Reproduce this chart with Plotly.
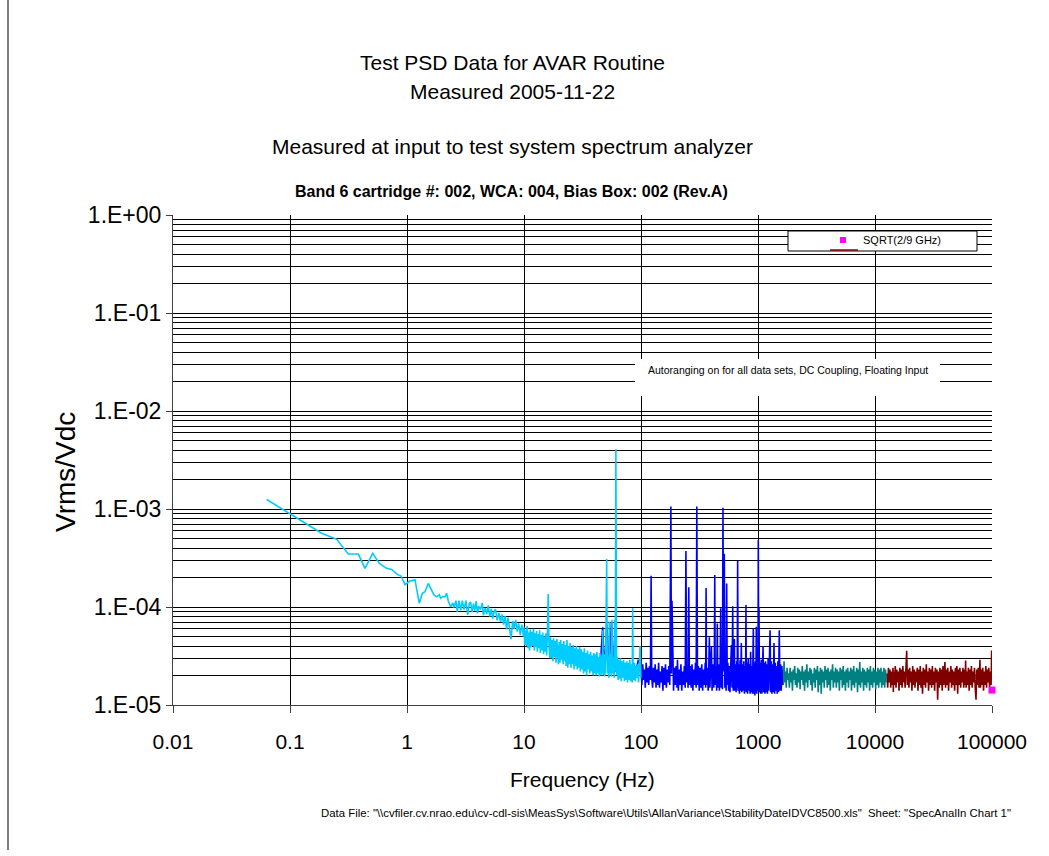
import plotly.graph_objects as go

# ---------------- data ----------------
cyan_freq = [0.0632, 0.125, 0.1866, 0.2507, 0.315, 0.384, 0.4375, 0.509, 0.580, 0.670,
             0.740, 0.833, 0.889, 0.962, 1.047, 1.170, 1.274, 1.352, 1.425, 1.52,
             1.60, 1.70, 1.79, 1.89, 1.94, 2.02, 2.11, 2.18, 2.25, 2.36,
             2.46, 2.52, 2.62, 2.69, 2.78, 2.88, 2.97, 3.07, 3.19, 3.30, 3.41,
             3.5, 3.6, 3.7, 3.8, 3.9, 4.0, 4.1, 4.25, 4.4, 4.5, 4.65, 4.8, 4.95, 5.1,
             5.25, 5.4, 5.55, 5.7, 5.9, 6.1, 6.3, 6.5, 6.7, 6.9, 7.1, 7.3, 7.5, 7.75,
             8.0, 8.25, 8.5, 8.75, 9.0, 9.3, 9.6, 9.9,
             10.0, 10.15, 10.3, 10.5, 10.65, 10.8, 11.0, 11.15, 11.3, 11.5,
             11.7, 11.85, 12.05, 12.25, 12.4, 12.6, 12.8, 13.0, 13.2, 13.4,
             13.6, 13.8, 14.0, 14.25, 14.45, 14.7, 14.9, 15.15, 15.4, 15.6, 15.85,
             16.1,
             16.35, 16.6, 16.85, 17.1, 17.4, 17.65, 17.9, 18.2, 18.5, 18.8, 19.1, 19.4, 19.7,
             20.0, 20.3, 20.6, 20.9, 21.2, 21.6, 21.9, 22.2, 22.6, 22.9,
             23.3, 23.7, 24.0, 24.4, 24.8, 25.2, 25.6, 26.0, 26.4, 26.8,
             27.2, 27.6, 28.1, 28.5, 29.0, 29.4, 29.9,
             30.3, 30.8, 31.3, 31.8, 32.3, 32.8, 33.3, 33.8, 34.3, 34.9,
             35.4, 36.0, 36.5, 37.1, 37.7, 38.3, 38.9, 39.5, 40.1, 40.7,
             41.4, 42.0, 42.7, 43.3, 44.0, 44.7, 45.4, 46.1, 46.8,
             47.1, 47.6, 48.3, 49.1, 49.9, 50.9, 51.5, 52.3, 53.1, 53.6,
             54.2, 55.0, 55.8, 56.5, 57.2, 58.1, 59.0, 59.6, 60.3, 61.0,
             61.8, 62.7, 63.7, 64.7, 65.7, 66.7, 67.8, 68.8, 69.9, 71.0,
             72.1, 73.2, 74.3, 75.5, 76.7, 77.9, 79.1, 80.3, 81.6, 82.8, 84.1,
             84.9, 85.6, 86.8, 88.1, 89.5, 90.9, 92.3, 93.7, 95.2, 96.7, 98.2, 99.7]
cyan_vals = [1.25e-3, 7.55e-4, 5.65e-4, 4.9e-4, 3.47e-4, 3.47e-4, 2.48e-4, 3.53e-4, 2.79e-4, 2.48e-4,
             2.42e-4, 2.14e-4, 2.07e-4, 1.69e-4, 1.83e-4, 1.9e-4, 1.09e-4, 1.38e-4, 1.43e-4, 1.74e-4,
             1.55e-4, 1.33e-4, 1.27e-4, 1.33e-4, 1.23e-4, 1.28e-4, 1.27e-4, 1.38e-4, 1.16e-4, 1.0e-4,
             1.1e-4, 9.9e-5, 1.16e-4, 8.9e-5, 1.16e-4, 9.3e-5, 1.16e-4, 9.4e-5, 1.16e-4, 8.3e-5, 1.09e-4,
             1.12e-4, 8.8e-5, 1.08e-4, 9.2e-5, 1.15e-4, 8.6e-5, 1.02e-4, 9.4e-5, 1.1e-4, 8.2e-5, 9.8e-5, 8.5e-5, 1.04e-4, 8.0e-5,
             9.6e-5, 7.6e-5, 8.9e-5, 9.5e-5, 7.3e-5, 8.7e-5, 7.0e-5, 8.4e-5, 6.6e-5, 8.1e-5, 5.9e-5, 7.8e-5, 6.4e-5, 4.7e-5,
             7.2e-5, 6.0e-5, 7.4e-5, 5.6e-5, 6.8e-5, 5.2e-5, 6.6e-5, 5.0e-5,
             6.2e-5, 4.1e-5, 5.8e-5, 4.0e-5, 6.4e-5, 3.8e-5, 5.5e-5, 3.6e-5, 5.9e-5, 3.9e-5,
             5.6e-5, 4.0e-5, 6.0e-5, 3.6e-5, 5.4e-5, 3.9e-5, 5.7e-5, 3.5e-5, 5.3e-5, 3.8e-5,
             5.8e-5, 3.4e-5, 5.2e-5, 3.6e-5, 5.5e-5, 3.3e-5, 5.0e-5, 3.5e-5, 5.4e-5, 3.2e-5, 5.1e-5,
             1.36e-4,
             4.2e-5, 3.0e-5, 4.9e-5, 3.0e-5, 4.6e-5, 2.8e-5, 4.8e-5, 3.1e-5, 4.5e-5, 2.7e-5, 4.7e-5, 2.9e-5, 2.6e-5,
             4.4e-5, 2.7e-5, 4.6e-5, 2.9e-5, 4.2e-5, 2.6e-5, 4.5e-5, 2.8e-5, 4.1e-5, 2.5e-5,
             4.6e-5, 2.4e-5, 4.0e-5, 2.6e-5, 4.3e-5, 2.4e-5, 3.9e-5, 2.6e-5, 4.1e-5, 2.3e-5,
             3.8e-5, 2.5e-5, 4.0e-5, 2.3e-5, 3.7e-5, 2.4e-5, 3.9e-5,
             2.2e-5, 3.7e-5, 2.3e-5, 3.5e-5, 2.1e-5, 3.8e-5, 2.2e-5, 3.4e-5, 2.0e-5, 3.6e-5,
             2.3e-5, 3.3e-5, 2.1e-5, 3.5e-5, 2.2e-5, 3.2e-5, 2.0e-5, 3.4e-5, 2.1e-5, 3.3e-5,
             2.0e-5, 3.5e-5, 2.1e-5, 3.1e-5, 1.95e-5, 3.4e-5, 2.0e-5, 3.2e-5, 2.1e-5,
             5.8e-5, 2.0e-5, 3.3e-5, 1.95e-5, 3.1e-5, 3.09e-4, 2.1e-5, 3.2e-5, 1.9e-5, 7.1e-5,
             2.1e-5, 3.3e-5, 1.95e-5, 7.4e-5, 2.1e-5, 3.1e-5, 1.9e-5, 7.4e-5, 2.2e-5, 4.06e-3,
             2.0e-5, 3.1e-5, 1.8e-5, 2.9e-5, 1.85e-5, 3.0e-5, 1.75e-5, 2.8e-5, 1.9e-5, 2.9e-5,
             1.75e-5, 2.7e-5, 1.8e-5, 2.8e-5, 1.7e-5, 2.7e-5, 1.8e-5, 2.9e-5, 1.75e-5, 2.6e-5, 1.7e-5,
             9.7e-5, 2.4e-5, 1.8e-5, 2.7e-5, 1.75e-5, 2.5e-5, 1.9e-5, 2.6e-5, 1.7e-5, 2.4e-5, 4.0e-5, 1.9e-5]

blue_freq = [45, 47, 49, 51, 53.5, 56, 58.5, 61, 64, 70, 78, 88, 95,
             100, 101.7, 103.4, 105.2, 107, 108.8, 110.7, 112.6, 114.5, 116.4,
             118.4, 120.4, 122, 123.6, 125.7, 127.8, 130, 132.2, 134.5, 136.8,
             139.1, 141.5, 143.9, 146.3, 148.8, 151.3, 153.9, 156.5, 159.2, 161.9,
             164.7, 167.5, 170.3, 173.2, 176.2, 180, 182, 184, 186.5, 189.7,
             192.9, 196.2, 199.5, 203, 205, 208.5, 212, 215.6, 219.3, 223,
             226.8, 230.7, 234.6, 238.6, 242, 245.6, 249.8, 252.5, 256, 259.5,
             263.9, 268.4, 273, 277.6, 282.3, 287.1, 292, 296, 300, 304,
             309.2, 314.4, 319.8, 325.2, 330.7, 336.4, 342.1, 347.9, 353.8, 357,
             360, 363, 368.7, 374.9, 380, 384, 388, 394.5, 400, 405,
             411.6, 418.6, 423, 427, 431, 437.5, 443, 449, 454, 461,
             468, 474, 480, 485, 492, 497, 502, 508, 515, 521,
             528, 534, 540, 546, 553, 561, 568, 576, 584, 592,
             600, 608, 614, 621, 628, 634, 642, 650, 658, 664,
             670, 676, 685, 694, 703, 712, 720, 728, 737, 746,
             756, 766, 777, 783, 789, 795, 805, 815, 825, 835,
             846, 856, 865, 875, 886, 897, 905, 912, 920, 930,
             940, 950, 958, 967, 976, 990, 1000, 1006, 1013, 1020,
             1028, 1040, 1053, 1066, 1079, 1092, 1105, 1118, 1132, 1146,
             1160, 1175, 1190, 1205, 1220, 1235, 1250, 1268, 1284, 1300,
             1316, 1333, 1350, 1370, 1388, 1405, 1423, 1441, 1459, 1477,
             1496, 1520, 1540, 1560, 1580, 1600, 1615]
blue_vals = [2.6e-5, 6.2e-5, 2.2e-5, 6.6e-5, 2.4e-5, 7.0e-5, 2.5e-5, 2.2e-5, 2.7e-5, 2.1e-5, 2.5e-5, 1.9e-5, 2.9e-5,
             2.4e-5, 1.6e-5, 2.6e-5, 1.8e-5, 2.3e-5, 1.5e-5, 2.7e-5, 1.7e-5, 2.4e-5, 1.6e-5,
             2.5e-5, 1.8e-5, 2.08e-4, 1.9e-5, 1.5e-5, 2.4e-5, 1.7e-5, 2.6e-5, 1.5e-5, 2.3e-5,
             1.6e-5, 2.7e-5, 1.5e-5, 2.2e-5, 1.7e-5, 2.5e-5, 1.4e-5, 2.4e-5, 1.6e-5, 2.6e-5,
             1.5e-5, 2.3e-5, 1.7e-5, 2.5e-5, 1.6e-5, 1.06e-3, 2.1e-5, 1.16e-4, 1.9e-5, 1.4e-5,
             2.4e-5, 1.6e-5, 2.5e-5, 1.5e-5, 2.9e-5, 1.4e-5, 2.3e-5, 1.6e-5, 2.6e-5, 1.4e-5,
             2.2e-5, 1.6e-5, 2.5e-5, 1.5e-5, 3.73e-4, 1.7e-5, 2.4e-5, 1.5e-5, 1.59e-4, 1.6e-5,
             2.5e-5, 1.5e-5, 2.6e-5, 1.4e-5, 2.3e-5, 1.6e-5, 2.7e-5, 1.5e-5, 1.06e-3, 1.6e-5,
             2.5e-5, 1.4e-5, 2.4e-5, 1.5e-5, 2.6e-5, 1.4e-5, 2.3e-5, 1.6e-5, 2.7e-5, 1.5e-5,
             1.56e-4, 1.6e-5, 2.4e-5, 1.4e-5, 2.5e-5, 4.9e-5, 1.5e-5, 2.3e-5, 4.0e-5, 1.4e-5,
             2.6e-5, 1.5e-5, 2.2e-5, 2.12e-4, 1.6e-5, 2.5e-5, 1.4e-5, 6.8e-5, 1.5e-5, 2.6e-5,
             1.4e-5, 2.4e-5, 9.7e-5, 1.5e-5, 2.5e-5, 1.45e-5, 1.03e-3, 2.2e-5, 3.5e-4, 1.5e-5,
             2.4e-5, 1.4e-5, 1.74e-4, 1.6e-5, 2.7e-5, 1.4e-5, 2.5e-5, 1.35e-5, 2.4e-5, 4.1e-5,
             1.5e-5, 1.02e-4, 1.4e-5, 2.5e-5, 4.7e-5, 1.4e-5, 2.6e-5, 1.35e-5, 2.8e-5, 1.5e-5,
             2.94e-4, 1.4e-5, 2.6e-5, 1.3e-5, 2.9e-5, 1.4e-5, 4.3e-5, 1.35e-5, 2.6e-5, 1.4e-5,
             2.8e-5, 1.3e-5, 2.5e-5, 1.4e-5, 1.05e-4, 1.35e-5, 2.7e-5, 1.3e-5, 3.0e-5, 1.4e-5,
             2.6e-5, 1.3e-5, 3.5e-5, 1.35e-5, 2.5e-5, 1.3e-5, 2.8e-5, 6.05e-5, 1.3e-5, 2.7e-5,
             1.25e-5, 2.8e-5, 1.35e-5, 6.3e-5, 1.3e-5, 2.6e-5, 1.4e-5, 4.83e-4, 2.0e-5, 1.0e-4,
             1.35e-5, 2.7e-5, 1.3e-5, 2.9e-5, 1.3e-5, 2.5e-5, 4.0e-5, 1.35e-5, 2.7e-5, 1.3e-5,
             2.8e-5, 1.35e-5, 2.6e-5, 1.3e-5, 3.0e-5, 1.4e-5, 2.6e-5, 5.8e-5, 1.35e-5, 2.8e-5,
             1.3e-5, 2.6e-5, 1.35e-5, 4.3e-5, 1.3e-5, 2.7e-5, 1.4e-5, 2.5e-5, 1.3e-5, 2.8e-5,
             1.35e-5, 5.8e-5, 1.4e-5, 2.6e-5, 1.4e-5, 2.5e-5, 1.6e-5]

teal_freq = [1620, 1645, 1670, 1695, 1720, 1745, 1770, 1800, 1825, 1855,
             1880, 1910, 1940, 1970, 2000, 2030, 2060, 2090, 2120, 2155,
             2185, 2220, 2255, 2290, 2320, 2355, 2390, 2430, 2465, 2500,
             2540, 2580, 2615, 2655, 2695, 2735, 2780, 2820, 2860, 2905,
             2950, 2990, 3035, 3080, 3130, 3175, 3220, 3270, 3320, 3370,
             3420, 3470, 3520, 3575, 3630, 3685, 3740, 3795, 3850, 3910,
             3970, 4030, 4090, 4150, 4210, 4275, 4340, 4405, 4470, 4535,
             4605, 4675, 4745, 4815, 4890, 4960, 5035, 5110, 5190, 5265,
             5345, 5425, 5505, 5590, 5670, 5755, 5845, 5930, 6020, 6110,
             6200, 6295, 6390, 6485, 6580, 6680, 6780, 6880, 6985, 7090,
             7195, 7300, 7410, 7520, 7635, 7750, 7865, 7985, 8105, 8225,
             8350, 8475, 8600, 8730, 8860, 8995, 9130, 9265, 9405, 9545,
             9690, 9835, 9980, 10130, 10280, 10435, 10590, 10750, 10910, 11075,
             11240, 11410, 11580, 11750, 11930, 12105, 12290, 12470]
teal_vals = [2.3e-5, 1.6e-5, 2.8e-5, 1.7e-5, 2.2e-5, 1.5e-5, 2.4e-5, 1.8e-5, 2.1e-5, 1.5e-5,
             2.4e-5, 1.7e-5, 2.2e-5, 1.4e-5, 2.3e-5, 1.8e-5, 2.5e-5, 1.6e-5, 2.1e-5, 1.5e-5,
             2.4e-5, 1.7e-5, 2.3e-5, 1.45e-5, 2.2e-5, 1.8e-5, 2.5e-5, 1.6e-5, 2.2e-5, 1.4e-5,
             2.3e-5, 1.7e-5, 2.6e-5, 1.5e-5, 2.2e-5, 1.8e-5, 2.4e-5, 1.6e-5, 2.3e-5, 1.4e-5,
             2.1e-5, 1.7e-5, 2.4e-5, 1.5e-5, 2.3e-5, 1.8e-5, 2.5e-5, 1.35e-5, 2.2e-5, 1.6e-5,
             2.4e-5, 1.3e-5, 2.3e-5, 1.7e-5, 2.2e-5, 1.5e-5, 2.5e-5, 1.8e-5, 2.3e-5, 1.5e-5,
             2.4e-5, 1.6e-5, 2.2e-5, 1.4e-5, 2.3e-5, 1.8e-5, 2.6e-5, 1.5e-5, 2.2e-5, 1.7e-5,
             2.4e-5, 1.5e-5, 2.3e-5, 1.7e-5, 2.2e-5, 1.4e-5, 2.4e-5, 1.8e-5, 2.3e-5, 1.5e-5,
             2.5e-5, 1.6e-5, 2.2e-5, 1.4e-5, 2.3e-5, 1.7e-5, 2.4e-5, 1.5e-5, 2.2e-5, 1.8e-5,
             2.4e-5, 1.4e-5, 2.3e-5, 1.6e-5, 2.5e-5, 1.5e-5, 2.2e-5, 1.7e-5, 2.4e-5, 1.35e-5,
             2.3e-5, 1.6e-5, 2.75e-5, 1.5e-5, 2.2e-5, 1.7e-5, 2.4e-5, 1.4e-5, 2.3e-5, 1.6e-5,
             2.2e-5, 1.5e-5, 2.4e-5, 1.7e-5, 2.3e-5, 1.4e-5, 2.5e-5, 1.6e-5, 2.2e-5, 1.5e-5,
             2.4e-5, 1.7e-5, 2.3e-5, 1.45e-5, 2.2e-5, 1.6e-5, 2.4e-5, 1.5e-5, 2.3e-5, 1.7e-5,
             2.4e-5, 1.5e-5, 2.2e-5, 1.6e-5, 2.4e-5, 1.5e-5, 2.3e-5, 1.7e-5]

maroon_freq = [12650, 12840, 13030, 13230, 13430, 13630, 13830, 14040, 14250, 14350,
               14470, 14680, 14900, 15130, 15350, 15580, 15820, 16050, 16300, 16540,
               16790, 17040, 17300, 17560, 17820, 18090, 18360, 18660, 18920, 19200,
               19490, 19780, 20080, 20380, 20690, 21000, 21310, 21630, 21960, 22290,
               22620, 22960, 23300, 23650, 24010, 24370, 24730, 25100, 25480, 25860,
               26250, 26650, 27050, 27450, 27860, 28280, 28710, 29140, 29570, 30020,
               30470, 30930, 31390, 31860, 32340, 32830, 33320, 33820, 34300, 34840,
               35360, 35890, 36430, 36980, 37530, 38090, 38670, 39250, 39600, 40090,
               40690, 41300, 41920, 42550, 43190, 43830, 44490, 45160, 45840, 46530,
               47220, 47930, 48650, 49380, 50120, 50870, 51640, 52410, 53200, 54000,
               54810, 55630, 56460, 57310, 58170, 59040, 59500, 60100, 61000, 61920,
               62850, 63790, 64750, 65720, 66700, 67700, 68720, 69750, 70800, 71860,
               73000, 74030, 75140, 76270, 77410, 78900, 79750, 80950, 82160, 83390,
               84640, 85910, 87200, 88510, 89840, 91190, 92550, 93940, 95350, 96780,
               98230, 99300, 100000]
maroon_vals = [2.1e-5, 1.5e-5, 2.4e-5, 1.7e-5, 2.3e-5, 1.5e-5, 2.2e-5, 1.6e-5, 2.4e-5, 1.36e-5,
               2.2e-5, 1.6e-5, 2.5e-5, 1.5e-5, 2.3e-5, 1.7e-5, 2.2e-5, 1.4e-5, 2.4e-5, 1.6e-5,
               2.3e-5, 1.5e-5, 2.5e-5, 1.7e-5, 2.2e-5, 1.5e-5, 2.4e-5, 3.58e-5, 1.6e-5, 2.3e-5,
               1.5e-5, 2.4e-5, 1.7e-5, 2.2e-5, 1.4e-5, 2.5e-5, 1.6e-5, 2.3e-5, 1.5e-5, 2.2e-5,
               1.7e-5, 2.4e-5, 1.4e-5, 2.3e-5, 1.6e-5, 2.5e-5, 1.5e-5, 2.2e-5, 1.3e-5, 2.4e-5,
               1.6e-5, 2.3e-5, 1.5e-5, 2.6e-5, 1.7e-5, 2.2e-5, 1.4e-5, 2.4e-5, 1.6e-5, 2.3e-5,
               1.5e-5, 2.5e-5, 1.6e-5, 2.2e-5, 1.4e-5, 2.4e-5, 1.7e-5, 2.3e-5, 1.13e-5, 2.2e-5,
               1.5e-5, 2.4e-5, 1.6e-5, 2.3e-5, 1.4e-5, 2.5e-5, 1.6e-5, 2.2e-5, 2.74e-5, 1.5e-5,
               2.3e-5, 1.6e-5, 2.4e-5, 1.4e-5, 2.2e-5, 1.7e-5, 2.5e-5, 1.5e-5, 2.3e-5, 1.6e-5,
               2.2e-5, 1.4e-5, 2.4e-5, 1.6e-5, 2.5e-5, 1.3e-5, 2.3e-5, 1.6e-5, 2.4e-5, 1.5e-5,
               2.2e-5, 1.7e-5, 2.4e-5, 1.5e-5, 2.3e-5, 1.6e-5, 2.85e-5, 1.5e-5, 2.2e-5, 1.6e-5,
               2.4e-5, 1.4e-5, 2.3e-5, 1.6e-5, 2.5e-5, 1.5e-5, 2.2e-5, 1.7e-5, 2.4e-5, 1.5e-5,
               1.13e-5, 2.3e-5, 1.6e-5, 2.4e-5, 1.5e-5, 2.9e-5, 1.5e-5, 2.3e-5, 1.6e-5, 2.4e-5,
               1.4e-5, 2.2e-5, 1.6e-5, 2.5e-5, 1.5e-5, 2.3e-5, 1.7e-5, 2.4e-5, 1.5e-5, 2.2e-5,
               1.6e-5, 3.6e-5, 1.8e-5]

sqrt_freq = [100000]
sqrt_vals = [1.42e-5]

x_tickvals = [0.01, 0.1, 1, 10, 100, 1000, 10000, 100000]
x_ticktext = ["0.01", "0.1", "1", "10", "100", "1000", "10000", "100000"]
y_tickvals = [1e-5, 1e-4, 1e-3, 1e-2, 1e-1, 1]
y_ticktext = ["1.E-05", "1.E-04", "1.E-03", "1.E-02", "1.E-01", "1.E+00"]

title_lines = ["Test PSD Data for AVAR Routine", "Measured 2005-11-22",
               "Measured at input to test system spectrum analyzer"]
subtitle = "Band 6 cartridge #: 002, WCA: 004, Bias Box: 002 (Rev.A)"
legend_label = "SQRT(2/9 GHz)"
note_text = "Autoranging on for all data sets, DC Coupling, Floating Input"
footer_text = ('Data File: "\\\\cvfiler.cv.nrao.edu\\cv-cdl-sis\\MeasSys\\Software\\Utils\\AllanVariance'
               '\\StabilityDateIDVC8500.xls"  Sheet: "SpecAnalIn Chart 1"')

for a, b in [(cyan_freq, cyan_vals), (blue_freq, blue_vals), (teal_freq, teal_vals),
             (maroon_freq, maroon_vals)]:
    assert len(a) == len(b), (len(a), len(b))

# ---------------- figure ----------------
FONT = "Liberation Sans, Arial, sans-serif"
W, H = 1049, 856
L, R, T, B = 173, 992, 215, 705


def px(x):
    return (x - L) / (R - L)


def py(y):
    return (B - y) / (B - T)


LW = 1.6
fig = go.Figure()
fig.add_trace(go.Scatter(x=maroon_freq, y=maroon_vals, mode="lines",
                         line=dict(color="#800000", width=LW), showlegend=False))
fig.add_trace(go.Scatter(x=teal_freq, y=teal_vals, mode="lines",
                         line=dict(color="#008080", width=LW), showlegend=False))
fig.add_trace(go.Scatter(x=blue_freq, y=blue_vals, mode="lines",
                         line=dict(color="#0000FF", width=LW), showlegend=False))
fig.add_trace(go.Scatter(x=cyan_freq, y=cyan_vals, mode="lines",
                         line=dict(color="#00CCFF", width=LW), showlegend=False))
fig.add_trace(go.Scatter(x=sqrt_freq, y=sqrt_vals, mode="markers",
                         marker=dict(symbol="square", size=7, color="#FF00FF"),
                         showlegend=False, cliponaxis=False))

minor_y = [k * 10.0 ** e for e in range(-5, 0) for k in range(2, 10)]

fig.update_xaxes(type="log", range=[-2, 5], tickvals=x_tickvals, ticktext=x_ticktext,
                 showgrid=True, gridcolor="#000000", gridwidth=1,
                 showline=True, linecolor="#404040", linewidth=1,
                 ticks="outside", ticklen=7, tickcolor="#404040",
                 tickfont=dict(family=FONT, size=21, color="black"),
                 ticklabelstandoff=11, zeroline=False)
fig.update_yaxes(type="log", range=[-5, 0], tickvals=y_tickvals, ticktext=y_ticktext,
                 showgrid=True, gridcolor="#000000", gridwidth=1,
                 minor=dict(tickvals=minor_y, showgrid=True, gridcolor="#000000", gridwidth=1, ticks=""),
                 showline=True, linecolor="#404040", linewidth=1,
                 ticks="outside", ticklen=6, tickcolor="#404040",
                 tickfont=dict(family=FONT, size=23, color="black"), zeroline=False)

ann = []
for txt, yy in zip(title_lines, [62, 91, 146]):
    ann.append(dict(text=txt, x=px(512), y=py(yy), xref="paper", yref="paper",
                    showarrow=False, xanchor="center", yanchor="middle",
                    font=dict(family=FONT, size=21, color="black")))
ann.append(dict(text="<b>" + subtitle + "</b>", x=px(511), y=py(191), xref="paper", yref="paper",
                showarrow=False, xanchor="center", yanchor="middle",
                font=dict(family=FONT, size=16, color="black")))
ann.append(dict(text="Frequency (Hz)", x=px(582.5), y=py(779), xref="paper", yref="paper",
                showarrow=False, xanchor="center", yanchor="middle",
                font=dict(family=FONT, size=21, color="black")))
ann.append(dict(text="Vrms/Vdc", x=px(65), y=py(472), xref="paper", yref="paper",
                showarrow=False, xanchor="center", yanchor="middle", textangle=-90,
                font=dict(family=FONT, size=28, color="black")))
ann.append(dict(text=footer_text, x=px(666), y=py(813), xref="paper", yref="paper",
                showarrow=False, xanchor="center", yanchor="middle",
                font=dict(family=FONT, size=11.4, color="black")))
ann.append(dict(text=note_text, x=px(787.5), y=py(370), xref="paper", yref="paper",
                showarrow=False, xanchor="center", yanchor="middle",
                font=dict(family=FONT, size=10.5, color="black")))
ann.append(dict(text=legend_label, x=px(861), y=py(240.5), xref="paper", yref="paper",
                showarrow=False, xanchor="left", yanchor="middle",
                font=dict(family=FONT, size=11, color="black")))

shapes = [
    # note box
    dict(type="rect", xref="paper", yref="paper", x0=px(635), x1=px(940), y0=py(396), y1=py(359),
         fillcolor="white", line=dict(width=0), layer="above"),
    # legend box
    dict(type="rect", xref="paper", yref="paper", x0=px(788), x1=px(977), y0=py(251), y1=py(231),
         fillcolor="white", line=dict(color="black", width=1), layer="above"),
    dict(type="rect", xref="paper", yref="paper", x0=px(840), x1=px(846), y0=py(243), y1=py(237),
         fillcolor="#FF00FF", line=dict(width=0), layer="above"),
    dict(type="line", xref="paper", yref="paper", x0=px(830), x1=px(858), y0=py(250), y1=py(250),
         line=dict(color="#800000", width=1.5), layer="above"),
    # chart area border (left edge)
    dict(type="line", xref="paper", yref="paper", x0=px(8), x1=px(8), y0=py(0), y1=py(850),
         line=dict(color="black", width=1), layer="above"),
]

fig.update_layout(width=W, height=H, margin=dict(l=L, r=W - R, t=T, b=H - B),
                  paper_bgcolor="white", plot_bgcolor="white",
                  annotations=ann, shapes=shapes, showlegend=False,
                  font=dict(family=FONT, color="black"))

fig.write_html("out.html")
